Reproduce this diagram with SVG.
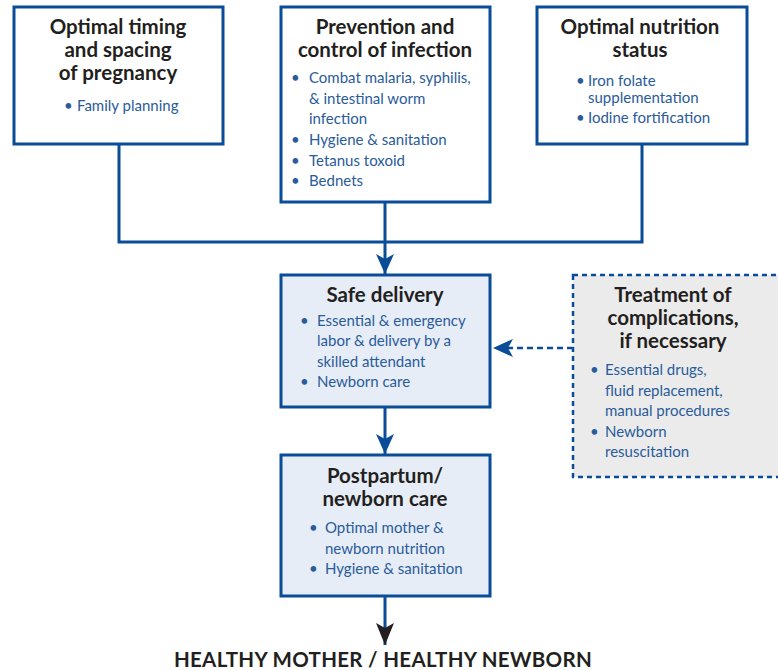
<svg xmlns="http://www.w3.org/2000/svg" width="778" height="670" viewBox="0 0 778 670">
<defs>
<style>
.box{fill:#ffffff;stroke:#0b4c98;stroke-width:3}
.fbox{fill:#e6edf7;stroke:#0b4c98;stroke-width:3}
.tbox{fill:#ebebeb;stroke:#0b4c98;stroke-width:2.5;stroke-dasharray:5 4}
.t{font-family:Lato,"Open Sans","Liberation Sans",sans-serif;font-weight:bold;font-size:20.5px;fill:#231f20;text-anchor:middle}
.b{font-family:Lato,"Open Sans","Liberation Sans",sans-serif;font-size:15px;fill:#2a5b9b}
.e{font-family:Lato,"Liberation Sans",sans-serif;font-weight:bold;font-size:20.5px;letter-spacing:0.3px;fill:#231f20;text-anchor:middle}
.c{fill:none;stroke:#0b4c98;stroke-width:3}
.d{fill:none;stroke:#0b4c98;stroke-width:2.5;stroke-dasharray:6 4}
</style>
<marker id="ab" markerUnits="userSpaceOnUse" viewBox="0 0 20 18" refX="20" refY="9" markerWidth="20" markerHeight="18" orient="auto">
<path d="M0,0 L20,9 L0,18 L5,9 Z" fill="#0b4c98"/>
</marker>
<marker id="ak" markerUnits="userSpaceOnUse" viewBox="0 0 22 18" refX="22" refY="9" markerWidth="22" markerHeight="18" orient="auto">
<path d="M0,0 L22,9 L0,18 L5,9 Z" fill="#231f20"/>
</marker>
</defs>
<g id="connectors">
<path class="c" d="M119,144 V242 H642 V144"/>
<path class="c" d="M385,202 V274" marker-end="url(#ab)"/>
<path class="c" d="M385,407 V454" marker-end="url(#ab)"/>
<path class="c" d="M385,596 V645" marker-end="url(#ak)"/>
<path class="d" d="M573,348 H493" marker-end="url(#ab)"/>
</g>
<g id="timing">
<rect class="box" x="14" y="7" width="209" height="137"/>
<text class="t" x="118" y="34">Optimal timing</text>
<text class="t" x="118" y="57">and spacing</text>
<text class="t" x="118" y="80">of pregnancy</text>
<text class="b" x="64" y="111">•</text>
<text class="b" x="77" y="111">Family planning</text>
</g>
<g id="infection">
<rect class="box" x="281" y="7" width="209" height="195"/>
<text class="t" x="385" y="34">Prevention and</text>
<text class="t" x="385" y="57">control of infection</text>
<text class="b" x="291" y="83">•</text>
<text class="b" x="309" y="83">Combat malaria, syphilis,</text>
<text class="b" x="309" y="104">&amp; intestinal worm</text>
<text class="b" x="309" y="124">infection</text>
<text class="b" x="291" y="145">•</text>
<text class="b" x="309" y="145">Hygiene &amp; sanitation</text>
<text class="b" x="291" y="166">•</text>
<text class="b" x="309" y="166">Tetanus toxoid</text>
<text class="b" x="291" y="186">•</text>
<text class="b" x="309" y="186">Bednets</text>
</g>
<g id="nutrition">
<rect class="box" x="537" y="7" width="210" height="137"/>
<text class="t" x="640" y="34">Optimal nutrition</text>
<text class="t" x="640" y="57">status</text>
<text class="b" x="576" y="86">•</text>
<text class="b" x="588" y="86">Iron folate</text>
<text class="b" x="588" y="103">supplementation</text>
<text class="b" x="576" y="123">•</text>
<text class="b" x="588" y="123">Iodine fortification</text>
</g>
<g id="delivery">
<rect class="fbox" x="281" y="275" width="209" height="132"/>
<text class="t" x="385" y="302">Safe delivery</text>
<text class="b" x="300" y="326">•</text>
<text class="b" x="317" y="326">Essential &amp; emergency</text>
<text class="b" x="317" y="346">labor &amp; delivery by a</text>
<text class="b" x="317" y="367">skilled attendant</text>
<text class="b" x="300" y="387">•</text>
<text class="b" x="317" y="387">Newborn care</text>
</g>
<g id="treatment">
<rect class="tbox" x="573" y="275" width="210" height="202"/>
<text class="t" x="673" y="302">Treatment of</text>
<text class="t" x="673" y="325">complications,</text>
<text class="t" x="673" y="348">if necessary</text>
<text class="b" x="590" y="375">•</text>
<text class="b" x="605" y="375">Essential drugs,</text>
<text class="b" x="605" y="396">fluid replacement,</text>
<text class="b" x="605" y="416">manual procedures</text>
<text class="b" x="590" y="437">•</text>
<text class="b" x="605" y="437">Newborn</text>
<text class="b" x="605" y="457">resuscitation</text>
</g>
<g id="postpartum">
<rect class="fbox" x="281" y="455" width="209" height="141"/>
<text class="t" x="385" y="483">Postpartum/</text>
<text class="t" x="385" y="506">newborn care</text>
<text class="b" x="309" y="533">•</text>
<text class="b" x="325" y="533">Optimal mother &amp;</text>
<text class="b" x="325" y="554">newborn nutrition</text>
<text class="b" x="309" y="574">•</text>
<text class="b" x="325" y="574">Hygiene &amp; sanitation</text>
</g>
<g id="outcome">
<text class="e" x="383" y="667">HEALTHY MOTHER / HEALTHY NEWBORN</text>
</g>
</svg>
